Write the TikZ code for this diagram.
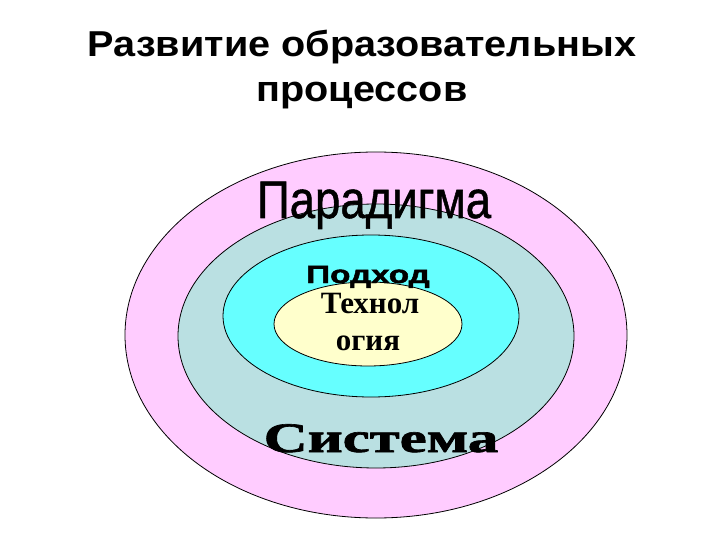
\documentclass[tikz,border=0pt]{standalone}
\usepackage{fontspec}
\setmainfont{Liberation Serif}
\newfontfamily\arialfont[FakeBold=1]{Liberation Sans}
\newfontfamily\heavyarial[FakeBold=1.5]{Liberation Sans Bold}
\newfontfamily\heavyserif[FakeBold=1.5]{Liberation Serif Bold}
\usepackage{xcolor}
\usetikzlibrary{positioning}

\definecolor{ringPink}{RGB}{255,204,255}
\definecolor{ringGrey}{RGB}{186,224,226}
\definecolor{ringCyan}{RGB}{102,255,255}
\definecolor{ringCream}{RGB}{255,255,204}

\begin{document}
\begin{tikzpicture}[x=1pt,y=-1pt,
		ring/.style={
			% The shape:
			draw=black,line width=0.8pt},
		caption/.style={
			inner sep=0pt,anchor=base,text=black}]
		\useasboundingbox[fill=white] (0,0) rectangle (720,540);

		% title
		\node (t_line1)	[caption, font=\sffamily\fontspec{Liberation Sans Bold}\fontsize{36}{40}\selectfont, xscale=1.1] at (362,57)	{Развитие образовательных};
		\node (t_line2)	[caption, font=\sffamily\fontspec{Liberation Sans Bold}\fontsize{36}{40}\selectfont, xscale=1.1] at (362,102)	{процессов};

		% rings, outer to inner
		\draw[ring, fill=ringPink]	(376,335) ellipse [x radius=251, y radius=183];
		\draw[ring, fill=ringGrey]	(376,336) ellipse [x radius=198, y radius=132];
		\draw[ring, fill=ringCyan]	(371,316) ellipse [x radius=148, y radius=81];
		\draw[ring, fill=ringCream]	(368,324) ellipse [x radius=94, y radius=42];

		% labels
		\node (l_parad)	[caption, font=\arialfont\fontsize{53}{60}\selectfont, xscale=0.86] at (374,218)	{Парадигма};
		\node (l_podh)	[caption, font=\heavyarial\fontsize{25}{30}\selectfont, xscale=1.33] at (368,283)	{Подход};
		\node (l_tech1)	[caption, font=\bfseries\fontsize{31}{36}\selectfont] at (370,313)	{Технол};
		\node (l_tech2)	[caption, font=\bfseries\fontsize{31}{36}\selectfont] at (368,350)	{огия};
		\node (l_sist)	[caption, font=\heavyserif\fontsize{42}{48}\selectfont, xscale=1.45] at (381,452)	{Система};
	\end{tikzpicture}
\end{document}
